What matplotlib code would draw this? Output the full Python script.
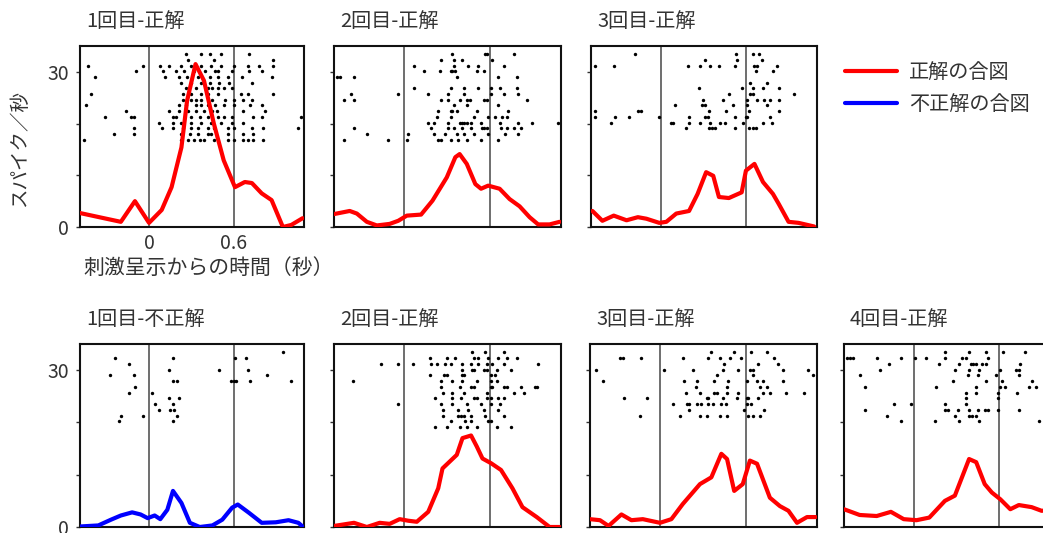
import matplotlib
matplotlib.use('Agg')
import matplotlib.pyplot as plt

plt.rcParams['font.family'] = ['Noto Sans CJK JP', 'DejaVu Sans']

# ---- data ----
# time axis in seconds after stimulus onset, firing rate in spikes/s
events = [0.0, 0.6]
legend_labels = ['正解の合図', '不正解の合図']
titles_top = ['1回目-正解', '2回目-正解', '3回目-正解']
titles_bottom = ['1回目-不正解', '2回目-正解', '3回目-正解', '4回目-正解']

# top row, panel 1
a1_t = [-0.49, -0.32, -0.2, -0.1, 0.0, 0.09, 0.16, 0.23, 0.27, 0.33, 0.39, 0.46, 0.53,
        0.61, 0.68, 0.73, 0.80, 0.87, 0.95, 1.01, 1.09]
a1_v = [2.7, 1.7, 1.0, 5.0, 0.8, 3.3, 7.7, 15.4, 24.4, 31.5, 28.3, 20.0, 12.9,
        7.7, 8.7, 8.5, 6.5, 5.2, 0.0, 0.4, 1.7]
a1_spikes = [
    [0.26, 0.37, 0.43, 0.51, 0.71],
    [0.28, 0.46, 0.88],
    [-0.43, -0.04, 0.08, 0.14, 0.23, 0.30, 0.33, 0.37, 0.44, 0.51, 0.60, 0.70, 0.78, 0.88],
    [-0.09, 0.10, 0.19, 0.25, 0.32, 0.40, 0.47, 0.49, 0.59, 0.71, 0.80],
    [-0.38, 0.11, 0.21, 0.27, 0.35, 0.43, 0.49, 0.56, 0.66, 0.87],
    [0.23, 0.30, 0.37, 0.43, 0.50, 0.57, 0.73],
    [0.26, 0.33, 0.42, 0.45, 0.49, 0.53, 0.59],
    [-0.41, 0.24, 0.30, 0.37, 0.42, 0.49, 0.65, 0.70, 0.88],
    [0.24, 0.30, 0.33, 0.37, 0.45, 0.54, 0.60, 0.67, 0.73],
    [-0.45, 0.21, 0.26, 0.33, 0.37, 0.42, 0.47, 0.53, 0.60, 0.72, 0.80],
    [-0.16, 0.14, 0.21, 0.28, 0.33, 0.39, 0.45, 0.48, 0.67, 0.82],
    [-0.31, -0.13, -0.11, 0.17, 0.19, 0.30, 0.36, 0.42, 0.49, 0.53, 0.59, 0.74, 0.80, 1.08],
    [0.07, 0.17, 0.23, 0.30, 0.37, 0.44, 0.51, 0.59, 0.67],
    [-0.11, 0.09, 0.17, 0.24, 0.30, 0.35, 0.42, 0.46, 0.56, 0.60, 0.73, 0.81, 1.06],
    [-0.25, -0.11, 0.23, 0.29, 0.35, 0.42, 0.44, 0.56, 0.67, 0.74],
    [-0.46, 0.23, 0.28, 0.32, 0.36, 0.39, 0.46, 0.56, 0.60, 0.67, 0.70, 0.74, 0.81],
]

# top row, panel 2
a2_t = [-0.49, -0.38, -0.33, -0.26, -0.19, -0.10, -0.04, 0.02, 0.12, 0.20, 0.30, 0.36,
        0.39, 0.44, 0.50, 0.54, 0.59, 0.67, 0.74, 0.81, 0.88, 0.94, 1.02, 1.09]
a2_v = [2.5, 3.1, 2.6, 1.0, 0.3, 0.6, 1.2, 2.2, 2.4, 5.1, 9.6, 13.5,
        14.1, 12.2, 8.3, 7.4, 8.0, 7.4, 5.4, 4.0, 1.9, 0.5, 0.5, 1.0]
a2_spikes = [
    [0.34, 0.57, 0.58, 0.77],
    [0.26, 0.35, 0.41, 0.62],
    [0.07, 0.35, 0.45, 0.52, 0.70],
    [0.14, 0.25, 0.33, 0.34, 0.36, 0.51, 0.56],
    [-0.47, -0.45, -0.35, 0.37, 0.66, 0.79],
    [],
    [0.07, 0.33, 0.42, 0.52, 0.61, 0.67, 0.79],
    [-0.37, -0.04, 0.17, 0.31, 0.42, 0.61, 0.70, 0.80],
    [-0.42, -0.35, 0.26, 0.31, 0.39, 0.44, 0.46, 0.56, 0.58, 0.86],
    [0.35, 0.44, 0.66],
    [0.24, 0.33, 0.34, 0.37, 0.51, 0.73],
    [0.23, 0.33, 0.49, 0.59, 0.64, 0.69, 0.72],
    [0.17, 0.21, 0.31, 0.39, 0.41, 0.42, 0.44, 0.47, 0.54, 0.67, 0.80, 0.90, 1.08],
    [-0.35, 0.19, 0.31, 0.35, 0.41, 0.47, 0.55, 0.56, 0.58, 0.68, 0.72, 0.77, 0.82],
    [-0.26, 0.03, 0.21, 0.29, 0.37, 0.42, 0.49, 0.59, 0.71, 0.80],
    [-0.42, -0.11, 0.02, 0.24, 0.26, 0.33, 0.38, 0.44, 0.54, 0.66],
]

# top row, panel 3
a3_t = [-0.48, -0.41, -0.33, -0.24, -0.16, -0.10, -0.01, 0.04, 0.11, 0.20, 0.26, 0.32,
        0.37, 0.41, 0.48, 0.57, 0.60, 0.66, 0.72, 0.79, 0.83, 0.90, 0.97, 1.08]
a3_v = [3.1, 1.2, 2.2, 1.3, 1.9, 1.6, 0.8, 1.0, 2.6, 3.1, 6.4, 10.6,
        9.9, 5.8, 5.6, 6.7, 10.9, 12.2, 8.7, 6.4, 4.5, 1.0, 0.8, 0.1]
a3_spikes = [
    [-0.18, 0.53, 0.65, 0.69],
    [0.31, 0.54, 0.71],
    [-0.46, -0.33, 0.19, 0.28, 0.35, 0.41, 0.52, 0.66, 0.68, 0.82],
    [0.67, 0.79],
    [],
    [0.63, 0.75],
    [0.27, 0.57, 0.65, 0.72, 0.83],
    [0.48, 0.63, 0.65, 0.94],
    [0.30, 0.44, 0.61, 0.68, 0.73, 0.77, 0.83],
    [0.10, 0.29, 0.31, 0.51, 0.61, 0.75],
    [-0.46, -0.16, -0.14, 0.34, 0.46, 0.62, 0.83],
    [-0.46, -0.32, -0.22, -0.01, 0.20, 0.31, 0.33, 0.52, 0.60, 0.61, 0.77],
    [-0.35, 0.07, 0.09, 0.20, 0.28, 0.35, 0.42, 0.45, 0.58, 0.72, 0.78],
    [0.18, 0.34, 0.36, 0.38, 0.52, 0.62, 0.65, 0.67],
]

# bottom row, panel 1 (incorrect)
b1_t = [-0.49, -0.36, -0.27, -0.20, -0.12, -0.06, -0.01, 0.04, 0.08, 0.13, 0.17, 0.23,
        0.29, 0.36, 0.45, 0.52, 0.59, 0.63, 0.71, 0.80, 0.90, 0.99, 1.06, 1.09]
b1_v = [0.1, 0.3, 1.4, 2.2, 2.8, 2.4, 1.7, 2.2, 1.5, 3.3, 6.9, 4.6,
        0.8, 0.0, 0.3, 1.4, 3.7, 4.3, 2.7, 0.8, 0.9, 1.3, 0.8, 0.1]
b1_spikes = [
    [0.95],
    [-0.24, 0.17, 0.61, 0.69],
    [-0.14],
    [0.14, 0.50, 0.70],
    [-0.28, -0.11, 0.84],
    [0.17, 0.20, 0.58, 0.60, 0.62, 0.72, 1.01],
    [-0.10],
    [-0.14, 0.02],
    [0.14, 0.21],
    [0.04, 0.17],
    [0.07, 0.15, 0.18],
    [-0.20, -0.04, 0.20],
    [-0.21, 0.17],
]

# bottom row, panel 2
b2_t = [-0.49, -0.35, -0.26, -0.17, -0.10, -0.03, 0.03, 0.09, 0.17, 0.24, 0.27, 0.37,
        0.41, 0.47, 0.51, 0.55, 0.61, 0.68, 0.76, 0.83, 0.93, 1.02, 1.09]
b2_v = [0.2, 0.8, 0.0, 0.8, 0.6, 1.5, 1.2, 1.0, 2.9, 7.4, 11.2, 13.8,
        17.0, 17.5, 15.4, 13.1, 12.2, 10.9, 7.4, 3.8, 1.9, 0.0, 0.0]
b2_spikes = [
    [0.48, 0.57, 0.70],
    [0.18, 0.30, 0.36, 0.49, 0.52, 0.59, 0.66, 0.72, 0.79],
    [-0.16, -0.04, 0.06, 0.19, 0.23, 0.29, 0.33, 0.41, 0.47, 0.52, 0.58, 0.62, 0.70, 0.94],
    [0.41, 0.48, 0.49, 0.56, 0.58, 0.65, 0.75],
    [0.18, 0.28, 0.30, 0.41, 0.42, 0.61, 0.64],
    [-0.36, 0.26, 0.34, 0.41, 0.51, 0.61, 0.65],
    [0.26, 0.39, 0.47, 0.49, 0.61, 0.62, 0.70, 0.72, 0.82, 0.92, 0.93],
    [0.27, 0.34, 0.42, 0.58, 0.77, 0.84],
    [0.22, 0.34, 0.40, 0.49, 0.51, 0.58, 0.61, 0.66, 0.70],
    [-0.04, 0.26, 0.34, 0.44, 0.54, 0.61, 0.67],
    [0.27, 0.38, 0.45, 0.56, 0.66],
    [0.27, 0.38, 0.40, 0.42, 0.47, 0.57, 0.70],
    [0.33, 0.43, 0.47, 0.59, 0.61],
    [0.22, 0.30, 0.39, 0.44, 0.51, 0.65, 0.75],
]

# bottom row, panel 3
b3_t = [-0.49, -0.42, -0.36, -0.27, -0.20, -0.12, 0.00, 0.08, 0.16, 0.28, 0.36, 0.43,
        0.47, 0.52, 0.58, 0.63, 0.68, 0.77, 0.84, 0.90, 0.96, 1.03, 1.09]
b3_v = [1.5, 1.3, 0.2, 2.4, 1.3, 1.5, 0.8, 1.5, 4.4, 8.2, 9.5, 14.0,
        13.0, 6.9, 8.2, 12.7, 12.1, 5.6, 4.0, 3.1, 0.8, 1.9, 1.9]
b3_spikes = [
    [0.36, 0.52, 0.64, 0.75],
    [-0.28, -0.26, -0.13, 0.16, 0.34, 0.42, 0.49, 0.57, 0.80],
    [0.45, 0.69, 0.83],
    [-0.45, 0.03, 0.23, 0.44, 0.55, 0.63, 0.65, 0.86, 1.04],
    [0.40, 0.65, 1.07],
    [-0.40, 0.17, 0.26, 0.38, 0.48, 0.61, 0.68, 0.72, 0.86],
    [0.25, 0.47, 0.70, 0.75],
    [0.18, 0.28, 0.38, 0.40, 0.47, 0.55, 0.72, 0.77, 0.88, 1.01],
    [-0.25, -0.09, 0.33, 0.34, 0.44, 0.54, 0.61, 0.62, 0.69],
    [0.09, 0.19, 0.20, 0.26, 0.29, 0.34, 0.37, 0.43, 0.46, 0.61, 0.64],
    [0.20, 0.59, 0.73],
    [-0.14, 0.14, 0.28, 0.33, 0.42, 0.47, 0.62, 0.65, 0.70],
]

# bottom row, panel 4 (cut off at the right edge)
b4_t = [-0.49, -0.38, -0.26, -0.16, -0.07, 0.02, 0.11, 0.22, 0.29, 0.34, 0.39, 0.44,
        0.50, 0.55, 0.61, 0.68, 0.74, 0.83, 0.90, 1.00, 1.09]
b4_v = [3.4, 2.3, 2.1, 2.9, 1.5, 1.3, 1.8, 5.0, 6.0, 9.5, 13.0, 12.4,
        8.2, 6.6, 5.3, 3.4, 4.2, 3.8, 3.1, 3.3, 3.0]
b4_spikes = [
    [0.22, 0.39, 0.51, 0.63, 0.78],
    [-0.47, -0.45, -0.43, -0.26, -0.09, 0.01, 0.09, 0.22, 0.34, 0.37, 0.52],
    [-0.17, 0.18, 0.32, 0.40, 0.42, 0.44, 0.48, 0.51, 0.75],
    [-0.24, 0.29, 0.39, 0.46, 0.61, 0.72, 0.74],
    [-0.38, 0.38, 0.45, 0.58, 0.74],
    [0.28, 0.51, 0.62, 0.83],
    [-0.34, 0.16, 0.44, 0.61, 0.64, 0.81, 0.86],
    [0.37, 0.44, 0.59, 0.73],
    [0.37, 0.59],
    [-0.14, -0.02, 0.22, 0.37],
    [-0.34, 0.22, 0.24, 0.31, 0.39, 0.45, 0.50, 0.52, 0.59, 0.74],
    [-0.19, 0.29, 0.39, 0.41, 0.44],
    [-0.09, 0.15, 0.32, 0.46, 0.88],
]

# raster rows: first trial drawn at 33.4, one trial per 1.1 units downwards
row_top = 33.4
row_step = 1.1

# ---- figure ----
W, H = 1043, 533
fig = plt.figure(figsize=(W / 100, H / 100), dpi=100)


def px_box(x0, y0, x1, y1):
    return [x0 / W, 1 - y1 / H, (x1 - x0) / W, (y1 - y0) / H]


top_boxes = [(80, 46, 304, 227), (334, 46, 561, 227), (591, 46, 817, 227)]
bottom_boxes = [(80, 344, 304, 527), (334, 344, 561, 527), (590, 344, 817, 527), (844, 344, 1070, 527)]

panels = [
    (top_boxes[0], titles_top[0], a1_t, a1_v, a1_spikes, 'red'),
    (top_boxes[1], titles_top[1], a2_t, a2_v, a2_spikes, 'red'),
    (top_boxes[2], titles_top[2], a3_t, a3_v, a3_spikes, 'red'),
    (bottom_boxes[0], titles_bottom[0], b1_t, b1_v, b1_spikes, 'blue'),
    (bottom_boxes[1], titles_bottom[1], b2_t, b2_v, b2_spikes, 'red'),
    (bottom_boxes[2], titles_bottom[2], b3_t, b3_v, b3_spikes, 'red'),
    (bottom_boxes[3], titles_bottom[3], b4_t, b4_v, b4_spikes, 'red'),
]

handles = {}
for i, (bx, title, t, v, spikes, col) in enumerate(panels):
    ax = fig.add_axes(px_box(*bx))
    ax.set_xlim(-0.49, 1.10)
    ax.set_ylim(0, 35)
    for e in events:
        ax.axvline(e, color='#6e6e6e', lw=1.4, zorder=1)
    for r, row in enumerate(spikes):
        y = row_top - r * row_step
        ax.scatter(row, [y] * len(row), s=6, marker='o', color='black',
                   linewidths=0, zorder=2)
    line, = ax.plot(t, v, color=col, lw=3.0, solid_joinstyle='round',
                    solid_capstyle='round', zorder=3)
    handles[col] = line

    ax.set_yticks([0, 10, 20, 30])
    if i in (0, 3):
        ax.set_yticklabels(['0', '', '', '30'])
    else:
        ax.set_yticklabels([])
    if i == 0:
        ax.set_xticks(events)
        ax.set_xticklabels(['0', '0.6'])
    else:
        ax.set_xticks([])
    ax.tick_params(axis='y', direction='out', length=3, width=1, pad=5, labelsize=14,
                   colors='#333333')
    ax.tick_params(axis='x', length=0, pad=4, labelsize=14, colors='#333333')
    for s in ax.spines.values():
        s.set_linewidth(1.5)
        s.set_color('#111111')

    fig.text((bx[0] + 6) / W, 1 - (bx[1] - 25) / H, title, fontsize=14.5,
             color='#333333', ha='left', va='center')

fig.text(20 / W, 1 - 148 / H, 'スパイク／秒', rotation=90, fontsize=14,
         color='#333333', ha='center', va='center')
fig.text(83 / W, 1 - 268 / H, '刺激呈示からの時間（秒）', fontsize=15,
         color='#333333', ha='left', va='center')

fig.legend([handles['red'], handles['blue']], legend_labels, loc='upper left',
           bbox_to_anchor=(845 / W, 1 - 62 / H), frameon=False, fontsize=14.5,
           handlelength=2.6, handletextpad=0.6, labelspacing=0.55,
           borderpad=0, borderaxespad=0, labelcolor='#333333')

fig.savefig('out.png', dpi=100)
